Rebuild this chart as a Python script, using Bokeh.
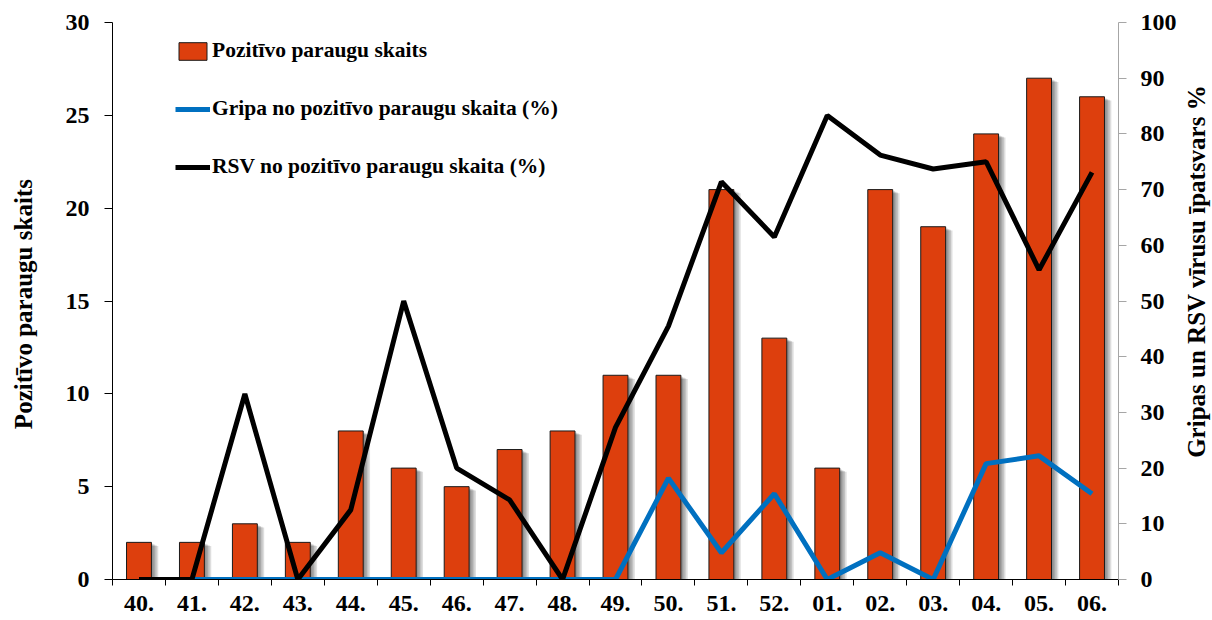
import math
from bokeh.plotting import figure
from bokeh.layouts import row
from bokeh.models import Range1d, LinearAxis, FixedTicker, ColumnDataSource, Legend, LegendItem, Label
from bokeh.transform import dodge
from bokeh.embed import file_html
from bokeh.resources import INLINE

weeks = ["40.", "41.", "42.", "43.", "44.", "45.", "46.", "47.", "48.", "49.",
         "50.", "51.", "52.", "01.", "02.", "03.", "04.", "05.", "06."]
positive_count = [2, 2, 3, 2, 8, 6, 5, 7, 8, 11, 11, 21, 13, 6, 21, 19, 24, 27, 26]
flu_pct = [0, 0, 0, 0, 0, 0, 0, 0, 0, 0, 18.2, 4.8, 15.4, 0, 4.8, 0, 20.8, 22.2, 15.4]
rsv_pct = [0, 0, 33.3, 0, 12.5, 50, 20, 14.3, 0, 27.3, 45.5, 71.4, 61.5, 83.3, 76.2, 73.7, 75, 55.6, 73.1]

FONT = "Liberation Serif"
TICK_SIZE = "24px"
idx = list(range(len(weeks)))
src = ColumnDataSource(dict(x=idx, count=positive_count, flu=flu_pct, rsv=rsv_pct))

p = figure(width=1182, height=620, output_backend="svg", toolbar_location=None,
           x_range=Range1d(-0.5, len(weeks) - 0.5), y_range=Range1d(0, 30),
           min_border_left=112, min_border_right=64, min_border_top=22, min_border_bottom=41)
p.outline_line_color = None
p.xgrid.visible = False
p.ygrid.visible = False
p.background_fill_color = "white"


def style_labels(ax):
    ax.major_label_text_font = FONT
    ax.major_label_text_font_style = "bold"
    ax.major_label_text_font_size = TICK_SIZE
    ax.major_label_text_color = "black"
    ax.axis_label_text_font = FONT
    ax.axis_label_text_font_style = "bold"
    ax.axis_label_text_font_size = "25px"
    ax.axis_label_text_color = "black"


# x axis: labels at centers, ticks at boundaries
xa = p.xaxis[0]
xa.ticker = FixedTicker(ticks=idx, minor_ticks=[i - 0.5 for i in range(len(weeks) + 1)])
xa.major_label_overrides = {i: w for i, w in zip(idx, weeks)}
xa.major_tick_out = 0
xa.major_tick_in = 0
xa.minor_tick_out = 6
xa.minor_tick_in = 0
xa.minor_tick_line_color = "black"
xa.axis_line_color = "black"
style_labels(xa)
xa.major_label_standoff = 10

ya = p.yaxis[0]
ya.ticker = FixedTicker(ticks=[0, 5, 10, 15, 20, 25, 30])
ya.minor_tick_line_color = None
ya.major_tick_out = 8
ya.major_tick_in = 0
ya.axis_line_color = "black"
ya.major_tick_line_color = "black"
style_labels(ya)
ya.major_label_standoff = 15
ya.axis_label = "Pozitīvo  paraugu skaits"
ya.axis_label_standoff = 26

p.extra_y_ranges = {"pct": Range1d(0, 100)}
ra = LinearAxis(y_range_name="pct", ticker=FixedTicker(ticks=list(range(0, 101, 10))))
ra.minor_tick_line_color = None
ra.major_tick_out = 8
ra.major_tick_in = 0
ra.axis_line_color = "#a6a6a6"
ra.major_tick_line_color = "#a6a6a6"
style_labels(ra)
ra.major_label_standoff = 14
p.add_layout(ra, "right")

# bar shadows
for k, d in enumerate([0.04, 0.07, 0.10, 0.13]):
    p.vbar(x=dodge("x", d), top=dodge("count", -0.08 - 0.04 * k), width=0.47, source=src,
           fill_color="black", fill_alpha=0.13, line_color=None)

bars = p.vbar(x="x", top="count", width=0.47, source=src,
              fill_color="#DD3F0D", line_color="#1a1a1a", line_width=1)
flu = p.line(x="x", y="flu", source=src, y_range_name="pct",
             line_color="#0070C0", line_width=5)
rsv = p.line(x="x", y="rsv", source=src, y_range_name="pct",
             line_color="black", line_width=5)

legend = Legend(items=[
    LegendItem(label="Pozitīvo paraugu skaits", renderers=[bars]),
    LegendItem(label="Gripa no pozitīvo paraugu skaita (%)", renderers=[flu]),
    LegendItem(label="RSV no pozitīvo paraugu skaita (%)", renderers=[rsv]),
], location=(63, 400))
legend.background_fill_alpha = 0
legend.border_line_color = None
legend.padding = 0
legend.margin = 0
legend.spacing = 33
legend.glyph_width = 35
legend.glyph_height = 22
legend.label_height = 22
legend.label_standoff = 2
legend.label_text_font = FONT
legend.label_text_font_style = "bold"
legend.label_text_font_size = "21.5px"
legend.label_text_color = "black"
p.add_layout(legend, "center")

# narrow side figure holding the right axis title (reads bottom-to-top)
side = figure(width=30, height=620, output_backend="svg", toolbar_location=None,
              x_range=Range1d(0, 30), y_range=Range1d(0, 620),
              min_border=0, x_axis_type=None, y_axis_type=None)
side.outline_line_color = None
side.xgrid.visible = False
side.ygrid.visible = False
side.add_layout(Label(x=14, y=343, text="Gripas un RSV vīrusu īpatsvars %", angle=math.pi / 2,
                      text_align="center", text_baseline="middle",
                      text_font=FONT, text_font_style="bold", text_font_size="25px",
                      text_color="black"))

layout = row(p, side, spacing=0)
open("out.html", "w").write(file_html(layout, INLINE))
